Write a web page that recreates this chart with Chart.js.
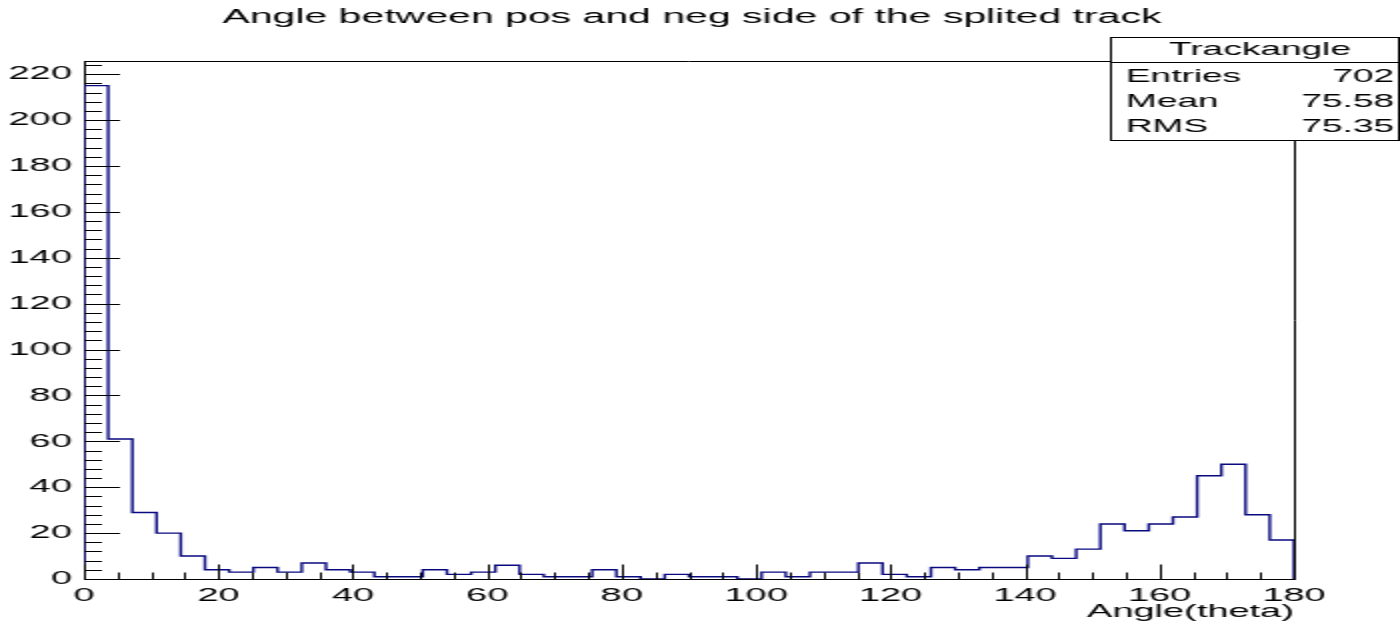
<!DOCTYPE html>
<html><head><meta charset="utf-8">
<script src="https://cdn.jsdelivr.net/npm/chart.js@4.4.1/dist/chart.umd.min.js"></script>
<style>
html,body{margin:0;padding:0;background:#fff;overflow:hidden;width:1400px;height:626px}
#wrap{position:absolute;left:0;top:0;width:700px;height:626px;transform:scaleX(2);transform-origin:0 0}
canvas{display:block}
</style></head><body>
<div id="wrap"><canvas id="c" width="700" height="626"></canvas></div>
<script>
// ---- data ----
const chartTitle = 'Angle between pos and neg side of the splited track';
const xTitle = 'Angle(theta)';
const binLow = 0;
const binHigh = 180;
const counts = [215, 61, 29, 20, 10, 4, 3, 5, 3, 7, 4, 3, 1,
                1, 4, 2, 3, 6, 2, 1, 1, 4, 1, 0, 2, 1, 1,
                0, 3, 1, 3, 3, 7, 2, 1, 5, 4, 5, 5,
                10, 9, 13, 24, 21, 24, 27, 45, 50, 28, 17];
const xTicks = [0, 20, 40, 60, 80, 100, 120, 140, 160, 180];
const yTicks = [0, 20, 40, 60, 80, 100, 120, 140, 160, 180, 200, 220];
const histName = 'Trackangle';
const statsLabels = ['Entries', 'Mean', 'RMS'];
const statsValues = ['702', '75.58', '75.35'];

// ---- build histogram outline points ----
const binW = (binHigh - binLow) / counts.length;
const pts = [{x: binLow, y: 0}];
counts.forEach((c, i) => pts.push({x: binLow + i * binW, y: c}));
pts.push({x: binHigh, y: counts[counts.length - 1]});
pts.push({x: binHigh, y: 0});
const yMax = Math.max(...counts) * 1.05;

const FONT = "'Liberation Sans', Arial, Helvetica, sans-serif";

const rootPlugin = {
  id: 'rootDecor',
  afterDraw(chart) {
    const ctx = chart.ctx;
    const a = chart.chartArea;
    const xs = chart.scales.x, ys = chart.scales.y;
    ctx.save();
    ctx.strokeStyle = '#000';
    ctx.lineWidth = 1;
    // frame top & right
    ctx.beginPath();
    ctx.moveTo(a.left, Math.round(a.top) + 0.5);
    ctx.lineTo(Math.round(a.right) + 0.5, Math.round(a.top) + 0.5);
    ctx.lineTo(Math.round(a.right) + 0.5, a.bottom);
    ctx.stroke();
    // y ticks (inside)
    ctx.beginPath();
    for (let v = 0; v <= ys.max + 1e-9; v += 4) {
      const y = Math.round(ys.getPixelForValue(v)) + 0.5;
      const major = (v % 20 === 0);
      ctx.moveTo(a.left, y);
      ctx.lineTo(a.left + (major ? 18 : 9), y);
    }
    // x ticks (inside)
    for (let v = xs.min; v <= xs.max + 1e-9; v += 5) {
      const x = Math.round(xs.getPixelForValue(v)) + 0.5;
      const major = (v % 20 === 0);
      const yb = Math.round(a.bottom) + 0.5;
      ctx.moveTo(x, yb);
      ctx.lineTo(x, yb - (major ? 15 : 7));
    }
    ctx.stroke();
    // title
    ctx.fillStyle = '#000';
    ctx.font = '20.5px ' + FONT;
    ctx.textAlign = 'center';
    ctx.textBaseline = 'middle';
    ctx.fillText(chartTitle, 346, 17);
    // stats box
    const bx = 555.5, by = 37.5, bw = 144, bh = 103;
    ctx.fillStyle = '#fff';
    ctx.fillRect(bx, by, bw, bh);
    ctx.strokeRect(bx, by, bw, bh);
    ctx.beginPath();
    ctx.moveTo(bx, 62.5); ctx.lineTo(bx + bw, 62.5);
    ctx.stroke();
    ctx.fillStyle = '#000';
    ctx.font = '18.5px ' + FONT;
    ctx.textAlign = 'center';
    ctx.fillText(histName, 630, 50);
    const rowY = [77, 102, 127];
    statsLabels.forEach((l, i) => {
      ctx.textAlign = 'left';
      ctx.fillText(l, 563, rowY[i]);
      ctx.textAlign = 'right';
      ctx.fillText(statsValues[i], 697, rowY[i]);
    });
    ctx.restore();
  }
};

new Chart(document.getElementById('c'), {
  type: 'line',
  data: {
    datasets: [{
      data: pts,
      stepped: true,
      borderColor: '#0a0a80',
      borderWidth: 1.4,
      pointRadius: 0,
      fill: false,
      tension: 0
    }]
  },
  options: {
    responsive: false,
    animation: false,
    events: [],
    layout: {padding: {left: 0, right: 53, top: 61, bottom: 0}},
    plugins: {legend: {display: false}, tooltip: {enabled: false}, title: {display: false}},
    scales: {
      x: {
        type: 'linear', min: binLow, max: binHigh,
        afterBuildTicks: s => { s.ticks = xTicks.map(v => ({value: v})); },
        afterFit: s => { s.height = 47; },
        grid: {display: false, drawTicks: false},
        border: {display: true, color: '#000', width: 1},
        ticks: {color: '#000', font: {family: FONT, size: 19}, padding: 5, maxRotation: 0, autoSkip: false},
        title: {display: true, text: xTitle, align: 'end', color: '#000', font: {family: FONT, size: 19}, padding: {top: 0, bottom: 3}}
      },
      y: {
        type: 'linear', min: 0, max: yMax,
        afterBuildTicks: s => { s.ticks = yTicks.map(v => ({value: v})); },
        afterFit: s => { s.width = 42; },
        grid: {display: false, drawTicks: false},
        border: {display: true, color: '#000', width: 1},
        ticks: {color: '#000', font: {family: FONT, size: 19}, padding: 6, autoSkip: false}
      }
    }
  },
  plugins: [rootPlugin]
});
</script>
</body></html>
